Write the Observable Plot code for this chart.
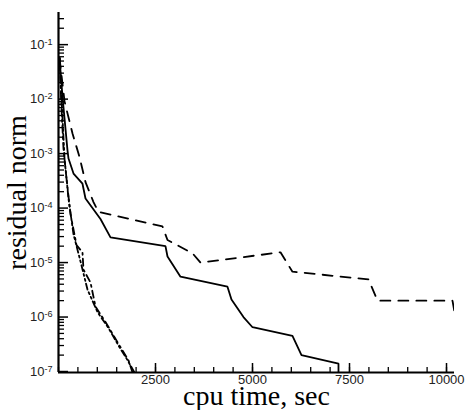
<!DOCTYPE html>
<html><head><meta charset="utf-8">
<script src="https://cdn.jsdelivr.net/npm/d3@7"></script>
<script src="https://cdn.jsdelivr.net/npm/@observablehq/plot@0.6"></script>
<style>body{margin:0;background:#fff}</style>
</head><body><div id="chart"></div>
<script>
// solid series
const solidTime = [26, 103, 232, 258, 387, 618, 696, 1082, 1340, 2757, 2809, 3144, 4355, 4458, 4767, 5000, 6030, 6262, 7216, 7216];
const solidRes  = [0.057, 0.011, 1.15e-3, 8.1e-4, 4.3e-4, 2.8e-4, 1.5e-4, 6.3e-5, 2.9e-5, 2.0e-5, 1.29e-5, 5.5e-6, 3.6e-6, 2.1e-6, 1.0e-6, 6.5e-7, 4.5e-7, 2.0e-7, 1.4e-7, 5e-8];
// dashed series
const dashTime = [26, 155, 361, 541, 696, 902, 1031, 2680, 2809, 3453, 3660, 5721, 6030, 7989, 8221, 10154, 10205];
const dashRes  = [0.057, 9.1e-3, 2.34e-3, 8.7e-4, 3.0e-4, 1.29e-4, 8.5e-5, 4.6e-5, 2.6e-5, 1.48e-5, 1.0e-5, 1.54e-5, 6.8e-6, 4.9e-6, 2.0e-6, 2.0e-6, 1.24e-6];
// dash-dot series A
const ddATime = [26, 77, 129, 206, 309, 464, 618, 644, 825, 954, 1211, 1417, 1598, 1804, 1907];
const ddARes  = [0.057, 6.8e-3, 1.23e-3, 3.5e-4, 7.8e-5, 2.1e-5, 1.54e-5, 7.4e-6, 4.3e-6, 1.55e-6, 8.1e-7, 4.6e-7, 2.8e-7, 1.6e-7, 9.6e-8];
// dash-dot series B
const ddBTime = [26, 77, 155, 258, 387, 567, 747, 1005, 1288, 1546, 1752, 1958];
const ddBRes  = [0.057, 0.0105, 8.1e-4, 1.48e-4, 3.3e-5, 1.05e-5, 3.2e-6, 1.23e-6, 6.3e-7, 3.0e-7, 1.74e-7, 9.6e-8];

const xMajor = [2500, 5000, 7500, 10000];
const xMinor = d3.range(0, 10201, 500);
const yMajorExp = [-7, -6, -5, -4, -3, -2, -1];
const xLabel = "cpu time, sec";
const yLabel = "residual norm";

const xDomain = [0, 10206];
const yDomain = [Math.pow(10, -7.018), Math.pow(10, -0.41)];
const yMajor = yMajorExp.map(e => Math.pow(10, e));
const yMinor = [];
for (let e = -8; e <= 0; e++) for (let m = 2; m <= 9; m++) {
  const v = m * Math.pow(10, e);
  if (v >= yDomain[0] && v <= yDomain[1]) yMinor.push(v);
}

const toRows = (xs, ys) => xs.map((x, i) => ({x, y: ys[i]}));

const tickFont = "Liberation Sans, Arial, sans-serif";
const line = (xs, ys, dash, w) => Plot.line(toRows(xs, ys), {x: "x", y: "y", stroke: "black", strokeWidth: w, strokeDasharray: dash, clip: true, strokeLinejoin: "miter"});

const svg = Plot.plot({
  width: 466, height: 410,
  marginLeft: 58, marginRight: 12, marginTop: 12, marginBottom: 38,
  style: {background: "white", color: "black"},
  x: {domain: xDomain, label: null},
  y: {type: "log", domain: yDomain, label: null},
  marks: [
    line(solidTime, solidRes, null, 1.8),
    line(dashTime, dashRes, "10,8", 1.8),
    line(ddATime, ddARes, "7,4,2,4", 1.8),
    line(ddBTime, ddBRes, "6,3,2,3,2,3", 1.8),
    // inward ticks
    Plot.axisX({ticks: xMajor, tickSize: 9, dy: -9, tickFormat: () => "", strokeWidth: 1.5, label: null}),
    Plot.axisX({ticks: xMinor, tickSize: 5, dy: -5, tickFormat: () => "", strokeWidth: 1.3, label: null}),
    Plot.axisY({ticks: yMajor, tickSize: 10, dx: 10, tickFormat: () => "", strokeWidth: 1.5, label: null}),
    Plot.axisY({ticks: yMinor, tickSize: 6, dx: 6, tickFormat: () => "", strokeWidth: 1.3, label: null}),
    // tick labels
    Plot.axisX({ticks: xMajor, tickSize: 0, tickPadding: 2, tickFormat: d => String(d), fontSize: 13, fontFamily: tickFont, fill: "#222", label: xLabel, labelAnchor: "center", labelOffset: 32, labelArrow: "none"}),
    Plot.axisY({ticks: yMajor, tickSize: 0, tickPadding: 6, tickFormat: d => "10^" + Math.round(Math.log10(d)), fontSize: 13, fontFamily: tickFont, fill: "#222", label: yLabel, labelAnchor: "center", labelOffset: 52, labelArrow: "none"}),
    // axis lines
    Plot.ruleX([xDomain[0]], {strokeWidth: 2.2}),
    Plot.ruleY([yDomain[0]], {strokeWidth: 2.2})
  ]
});

const s = d3.select(svg);
s.selectAll('g[aria-label="y-axis tick label"] text').each(function() {
  const t = this.textContent.split("^");
  this.textContent = "";
  const el = d3.select(this);
  el.append("tspan").text(t[0]);
  el.append("tspan").attr("dy", "-0.45em").attr("font-size", "0.7em").text(t[1]);
});
s.selectAll('g[aria-label="x-axis label"] text, g[aria-label="y-axis label"] text')
  .attr("font-family", "Liberation Serif, Times New Roman, serif")
  .attr("font-size", 28)
  .attr("fill", "black");
document.getElementById("chart").appendChild(svg);
</script>
</body></html>
